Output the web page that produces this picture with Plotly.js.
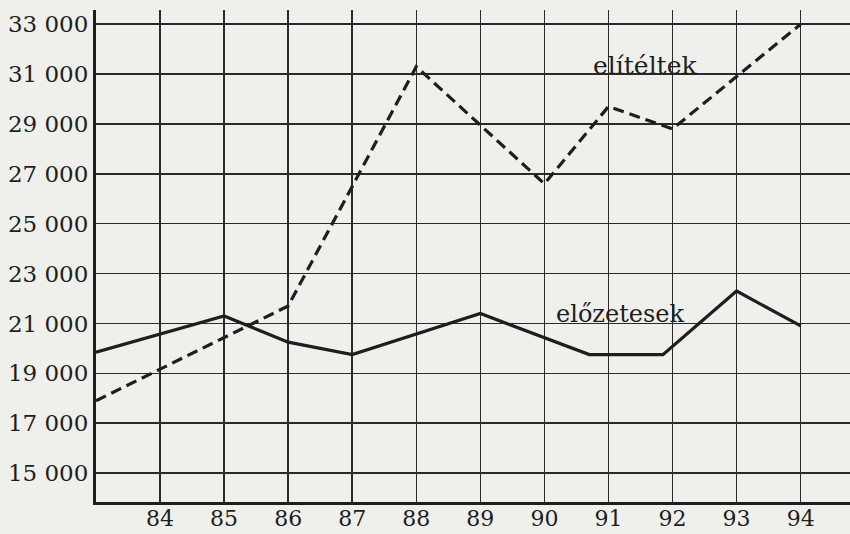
<!DOCTYPE html>
<html>
<head>
<meta charset="utf-8">
<script src="https://cdn.plot.ly/plotly-3.0.1.min.js"></script>
<style>html,body{margin:0;padding:0;background:#efefec;}#chart{width:850px;height:534px;}</style>
</head>
<body>
<div id="chart"></div>
<script>
// Data (years 1983-1994, number of persons)
const elitYears = [83, 86, 88, 90, 91, 92, 94];
const elitValues = [17900, 21700, 31300, 26600, 29700, 28800, 33000];

const elozYears = [83, 85, 86, 87, 89, 90.7, 91.85, 93, 94];
const elozValues = [19850, 21300, 20250, 19750, 21400, 19750, 19750, 22300, 20900];

const xTicks = [84, 85, 86, 87, 88, 89, 90, 91, 92, 93, 94];
const yTicks = [15000, 17000, 19000, 21000, 23000, 25000, 27000, 29000, 31000, 33000];
const yTickLabels = ["15 000", "17 000", "19 000", "21 000", "23 000", "25 000", "27 000", "29 000", "31 000", "33 000"];

const seriesNames = ["elítéltek", "előzetesek"];

const ink = "#1e1e1e";
const font = "DejaVu Serif, Liberation Serif, serif";

const traces = [
  {x: elitYears, y: elitValues, name: seriesNames[0], mode: "lines",
   line: {color: ink, width: 3.2, dash: "11px,6px"}, cliponaxis: false},
  {x: elozYears, y: elozValues, name: seriesNames[1], mode: "lines",
   line: {color: ink, width: 3.2}, cliponaxis: false}
];

const layout = {
  width: 850, height: 534,
  margin: {l: 96, r: 0, t: 10, b: 32},
  paper_bgcolor: "#efefec",
  plot_bgcolor: "#efefec",
  showlegend: false,
  font: {family: font, color: ink, size: 23},
  xaxis: {
    range: [83, 94.77], tickvals: xTicks, ticktext: xTicks.map(String),
    showgrid: true, gridcolor: "#2a2a2a", gridwidth: 1.5,
    showline: true, linecolor: ink, linewidth: 3,
    zeroline: false, ticks: "", ticklen: 0,
    ticklabelstandoff: -5,
    tickfont: {family: font, size: 22, color: ink}
  },
  yaxis: {
    range: [13840, 33570], tickvals: yTicks, ticktext: yTickLabels,
    showgrid: true, gridcolor: "#2a2a2a", gridwidth: 1.5,
    showline: true, linecolor: ink, linewidth: 3,
    zeroline: false, ticks: "", ticklen: 0,
    tickfont: {family: font, size: 23, color: ink}
  },
  annotations: [
    {x: 91.57, y: 31360, xref: "x", yref: "y", text: seriesNames[0], showarrow: false,
     font: {family: font, size: 25, color: ink}, bgcolor: "rgba(0,0,0,0)"},
    {x: 91.18, y: 21375, xref: "x", yref: "y", text: seriesNames[1], showarrow: false,
     font: {family: font, size: 24, color: ink}, bgcolor: "rgba(0,0,0,0)"}
  ]
};

Plotly.newPlot("chart", traces, layout, {staticPlot: true, displayModeBar: false});
</script>
</body>
</html>
